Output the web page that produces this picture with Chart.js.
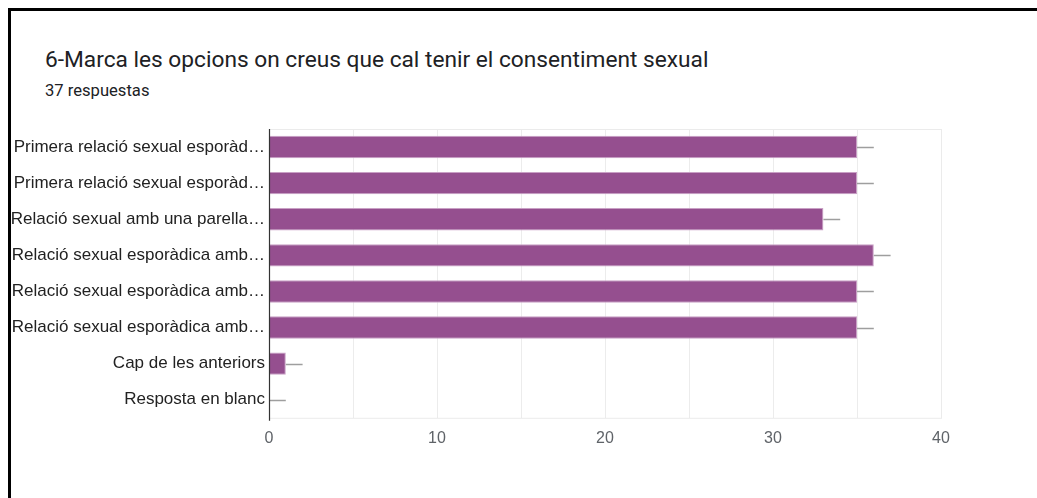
<!DOCTYPE html>
<html>
<head>
<meta charset="utf-8">
<script src="https://cdn.jsdelivr.net/npm/chart.js@4/dist/chart.umd.min.js"></script>
<style>
  html, body { margin: 0; padding: 0; background: #fff; }
  #wrap { position: relative; width: 1037px; height: 498px; overflow: hidden; }
  #frame { position: absolute; left: 8px; top: 8px; width: 1100px; height: 600px;
           border-top: 3px solid #000; border-left: 3px solid #000; box-sizing: border-box; }
  #title { position: absolute; left: 45px; top: 46px; font-family: Roboto, "Open Sans", sans-serif;
           font-size: 22.7px; color: #202124; white-space: nowrap; }
  #sub { position: absolute; left: 45px; top: 81px; font-family: Roboto, "Open Sans", sans-serif;
         font-size: 16.6px; color: #202124; white-space: nowrap; }
  canvas { position: absolute; left: 0; top: 0; }
</style>
</head>
<body>
<div id="wrap">
  <div id="frame"></div>
  <div id="title">6-Marca les opcions on creus que cal tenir el consentiment sexual</div>
  <div id="sub">37 respuestas</div>
  <canvas id="c" width="1037" height="498"></canvas>
</div>
<script>
const categories = [
  "Primera relació sexual esporàd…",
  "Primera relació sexual esporàd…",
  "Relació sexual amb una parella…",
  "Relació sexual esporàdica amb…",
  "Relació sexual esporàdica amb…",
  "Relació sexual esporàdica amb…",
  "Cap de les anteriors",
  "Resposta en blanc"
];
const responses = [35, 35, 33, 36, 35, 35, 1, 0];
const intervalPlus = [1, 1, 1, 1, 1, 1, 1, 1];
const xTicks = [0, 10, 20, 30, 40];

const boxPlugin = {
  id: 'box',
  beforeDatasetsDraw(chart) {
    const a = chart.chartArea, ctx = chart.ctx;
    ctx.save();
    ctx.strokeStyle = '#ebebeb';
    ctx.lineWidth = 1;
    ctx.strokeRect(a.left + 0.5, a.top + 0.5, a.right - a.left, a.bottom - a.top);
    ctx.restore();
  },
  afterDatasetsDraw(chart) {
    const ctx = chart.ctx, xs = chart.scales.x;
    const meta = chart.getDatasetMeta(0);
    ctx.save();
    ctx.strokeStyle = '#9e9e9e';
    ctx.lineWidth = 1.5;
    meta.data.forEach((bar, i) => {
      const x0 = xs.getPixelForValue(responses[i]);
      const x1 = xs.getPixelForValue(responses[i] + intervalPlus[i]);
      ctx.beginPath();
      ctx.moveTo(x0, Math.round(bar.y) + 0.5);
      ctx.lineTo(x1, Math.round(bar.y) + 0.5);
      ctx.stroke();
    });
    const a = chart.chartArea;
    ctx.strokeStyle = '#333';
    ctx.lineWidth = 1.2;
    ctx.beginPath();
    ctx.moveTo(a.left + 0.5, a.top);
    ctx.lineTo(a.left + 0.5, a.bottom + 3);
    ctx.stroke();
    ctx.restore();
  }
};

new Chart(document.getElementById('c'), {
  type: 'bar',
  data: {
    labels: categories,
    datasets: [{
      data: responses,
      backgroundColor: '#954f8f',
      borderColor: '#c9a0c5',
      borderWidth: 1,
      borderSkipped: 'start',
      categoryPercentage: 1,
      barPercentage: 0.62
    }]
  },
  options: {
    indexAxis: 'y',
    responsive: false,
    animation: false,
    layout: { padding: { left: 10, right: 96, top: 129, bottom: 39 } },
    plugins: { legend: { display: false }, tooltip: { enabled: false } },
    scales: {
      x: {
        min: 0, max: 40,
        afterBuildTicks(scale) {
          const t = [];
          for (let v = 0; v <= 40; v += 5) t.push({ value: v });
          scale.ticks = t;
        },
        ticks: {
          callback: (v) => xTicks.includes(v) ? String(v) : '',
          autoSkip: false, maxRotation: 0,
          color: '#5f6368',
          font: { family: 'Liberation Sans, Arial, sans-serif', size: 16 },
          padding: 11
        },
        grid: { color: '#ececec', drawTicks: false },
        border: { display: false }
      },
      y: {
        afterFit(scale) { scale.width = 259; },
        ticks: {
          color: '#222',
          font: { family: 'Liberation Sans, Arial, sans-serif', size: 17 },
          padding: 4
        },
        grid: { display: false, drawTicks: false },
        border: { display: false }
      }
    }
  },
  plugins: [boxPlugin]
});
</script>
</body>
</html>
